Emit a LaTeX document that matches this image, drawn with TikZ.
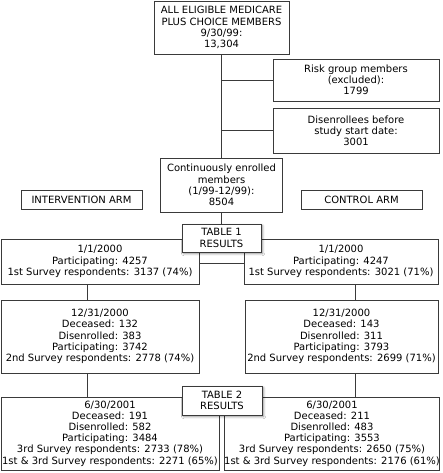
\documentclass[tikz,border=0pt]{standalone}
\usepackage{fontspec}
\setmainfont{DejaVu Sans}
\usetikzlibrary{shadows.blur}
\definecolor{linec}{HTML}{3A3A3A}
\definecolor{textc}{HTML}{000000}
\tikzset{
  box/.style={draw=linec, line width=0.9pt, fill=white, inner sep=0pt, align=center,
    text=textc, font=\fontsize{10}{11.2}\selectfont},
  tbox/.style={box, blur shadow={shadow xshift=1.6pt, shadow yshift=-1.6pt, shadow blur steps=6, shadow blur extra rounding=0.5pt, shadow opacity=45}},
  conn/.style={draw=linec, line width=0.9pt}
}
\begin{document}
\begin{tikzpicture}[x=1pt,y=-1pt]
\useasboundingbox (0,0) rectangle (443,473);
\coordinate (lx) at (87,0);
\coordinate (rx) at (355,0);

\node[box, minimum width=135pt, minimum height=53pt] (top) at (221.5,27.5)
  {ALL ELIGIBLE MEDICARE\\PLUS CHOICE MEMBERS\\9/30/99:\\13,304};
\node[box, minimum width=166pt, minimum height=42pt] (risk) at (356,80)
  {Risk group members\\(excluded):\\1799};
\node[box, minimum width=166pt, minimum height=45pt] (dis) at (356,130.5)
  {Disenrollees before\\study start date:\\3001};
\node[box, minimum width=122pt, minimum height=54pt] (cont) at (221.5,185)
  {Continuously enrolled\\members\\(1/99-12/99):\\8504};
\node[box, minimum width=121pt, minimum height=19pt] (interv) at (81.5,199.5)
  {INTERVENTION ARM};
\node[box, minimum width=121pt, minimum height=19pt] (ctrl) at (361.5,199.5)
  {CONTROL ARM};

\node[box, minimum width=198pt, minimum height=45pt] (a1) at (100,261.5)
  {1/1/2000\\Participating: 4257\\1st Survey respondents: 3137 (74\%)};
\node[box, minimum width=194pt, minimum height=45pt] (b1) at (341,261.5)
  {1/1/2000\\Participating: 4247\\1st Survey respondents: 3021 (71\%)};

\node[box, minimum width=198pt, minimum height=73pt] (a2) at (100,336.5)
  {12/31/2000\\Deceased: 132\\Disenrolled: 383\\Participating: 3742\\2nd Survey respondents: 2778 (74\%)};
\node[box, minimum width=193pt, minimum height=73pt] (b2) at (341.5,336.5)
  {12/31/2000\\Deceased: 143\\Disenrolled: 311\\Participating: 3793\\2nd Survey respondents: 2699 (71\%)};

\node[box, minimum width=218pt, minimum height=73pt] (a3) at (110,433.5)
  {6/30/2001\\Deceased: 191\\Disenrolled: 582\\Participating: 3484\\3rd Survey respondents: 2733 (78\%)\\1st \& 3rd Survey respondents: 2271 (65\%)};
\node[box, minimum width=212pt, minimum height=73pt] (b3) at (332,433.5)
  {6/30/2001\\Deceased: 211\\Disenrolled: 483\\Participating: 3553\\3rd Survey respondents: 2650 (75\%)\\1st \& 3rd Survey respondents: 2176 (61\%)};

% connectors
\draw[conn] (top.south) -- (cont.north);
\draw[conn] (risk.west) -- (risk.west -| top.south);
\draw[conn] (dis.west) -- (dis.west -| top.south);
\draw[conn] (cont.south) -- (cont.south |- a1.north);
\draw[conn] ([yshift=-1.5pt]a1.east) -- ([yshift=-1.5pt]b1.west);
\draw[conn] (a1.south -| lx) -- (a2.north -| lx);
\draw[conn] (b1.south -| rx) -- (b2.north -| rx);
\draw[conn] (a2.south -| lx) -- (a3.north -| lx);
\draw[conn] (b2.south -| rx) -- (b3.north -| rx);

\node[tbox, minimum width=79pt, minimum height=28pt] (t1) at (221.5,238)
  {TABLE 1\\RESULTS};
\node[tbox, minimum width=80pt, minimum height=29pt] (t2) at (222,400.5)
  {TABLE 2\\RESULTS};
\end{tikzpicture}
\end{document}
